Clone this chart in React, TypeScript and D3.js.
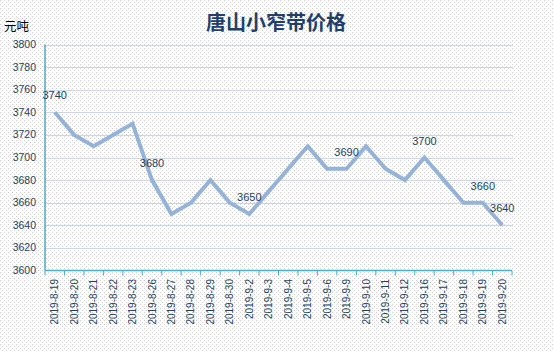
import React from "react";
import * as d3 from "d3";

const categories = [
  "2019-8-19", "2019-8-20", "2019-8-21", "2019-8-22", "2019-8-23", "2019-8-26",
  "2019-8-27", "2019-8-28", "2019-8-29", "2019-8-30", "2019-9-2", "2019-9-3",
  "2019-9-4", "2019-9-5", "2019-9-6", "2019-9-9", "2019-9-10", "2019-9-11",
  "2019-9-12", "2019-9-16", "2019-9-17", "2019-9-18", "2019-9-19", "2019-9-20",
];
const prices = [
  3740, 3720, 3710, 3720, 3730, 3680, 3650, 3660, 3680, 3660, 3650, 3670,
  3690, 3710, 3690, 3690, 3710, 3690, 3680, 3700, 3680, 3660, 3660, 3640,
];
const labeledIndices = [0, 5, 10, 15, 19, 22, 23];
const yTicks = [3600, 3620, 3640, 3660, 3680, 3700, 3720, 3740, 3760, 3780, 3800];
const title = "唐山小窄带价格";
const unit = "元吨";

export default function App() {
  const W = 554, H = 352;
  const left = 45, right = 512, top = 44.5, bottom = 270.5;
  const x = d3.scaleBand<string>().domain(categories).range([left, right]).padding(0);
  const y = d3.scaleLinear().domain([3600, 3800]).range([bottom, top]);
  const cx = (i: number) => (x(categories[i]) as number) + x.bandwidth() / 2;
  const line = d3.line<number>().x((_, i) => cx(i)).y((d) => y(d));
  const textColor = "#243F60";
  const num = "'Liberation Sans', Arial, sans-serif";

  return (
    <svg width={W} height={H} style={{ position: "absolute", left: 0, top: 0 }}>
      <defs>
        <pattern id="dots" width={4} height={4} patternUnits="userSpaceOnUse">
          <rect width={4} height={4} fill="#ffffff" />
          <rect x={0} y={0} width={1} height={1} fill="#d0d0d0" />
          <rect x={2} y={2} width={1} height={1} fill="#d0d0d0" />
        </pattern>
      </defs>
      <rect width={W} height={H} fill="url(#dots)" />
      <text x={276} y={30} textAnchor="middle" fontFamily="'Noto Sans CJK SC', sans-serif"
        fontWeight="bold" fontSize={20} fill="#1F3F6E">{title}</text>
      <text x={4} y={31} fontFamily="'Noto Sans CJK SC', sans-serif" fontSize={12.5} fill="#000">{unit}</text>
      {yTicks.map((t) => (
        <g key={t}>
          {t !== 3600 && (
            <line x1={left} x2={513} y1={Math.round(y(t)) + 0.5} y2={Math.round(y(t)) + 0.5}
              stroke="#C9D7E8" strokeWidth={1} />
          )}
          <text x={36} y={y(t) + 3.5} textAnchor="end" fontFamily={num} fontSize={10.5} fill={textColor}>{t}</text>
        </g>
      ))}
      <line x1={left} x2={left} y1={top} y2={bottom} stroke="#4BACC6" strokeWidth={1.5} />
      <line x1={left} x2={right} y1={bottom} y2={bottom} stroke="#4BACC6" strokeWidth={1.5} />
      {categories.map((c, i) => {
        const tx = (x(c) as number) + x.bandwidth();
        return <line key={"t" + i} x1={tx} x2={tx} y1={bottom} y2={bottom + 5} stroke="#4BACC6" strokeWidth={1} />;
      })}
      <line x1={left} x2={left} y1={bottom} y2={bottom + 5} stroke="#4BACC6" strokeWidth={1} />
      {categories.map((c, i) => (
        <text key={"x" + i} transform={`translate(${cx(i) + 3.5},279) rotate(-90)`} textAnchor="end"
          fontFamily={num} fontSize={10} fill={textColor}>{c}</text>
      ))}
      <path d={line(prices) || ""} fill="none" stroke="#95B3D7" strokeWidth={4} strokeLinejoin="miter" />
      {labeledIndices.map((i) => (
        <text key={"l" + i} x={cx(i)} y={y(prices[i]) - 13} textAnchor="middle"
          fontFamily={num} fontSize={11} fill={textColor}>{prices[i]}</text>
      ))}
    </svg>
  );
}
